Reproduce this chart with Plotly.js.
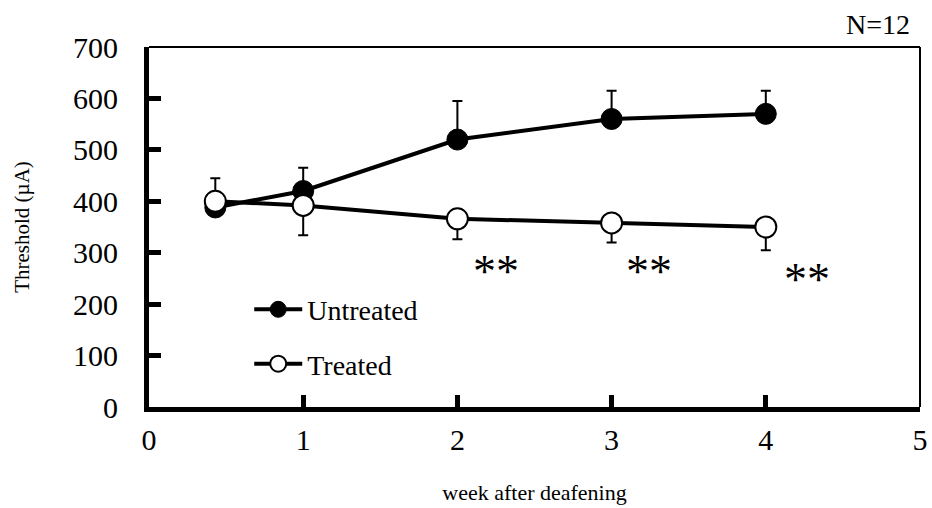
<!DOCTYPE html>
<html><head><meta charset="utf-8">
<script src="https://cdn.plot.ly/plotly-3.0.1.min.js"></script>
<style>body{margin:0;background:#fff}#c{width:932px;height:508px}</style>
</head><body><div id="c"></div>
<script>
const weeks = [0.43, 1, 2, 3, 4];
const untreated = [388, 420, 520, 560, 570];
const untreatedErrUp = [0, 45, 75, 55, 45];
const treated = [400, 392, 366, 358, 350];
const treatedErrUp = [45, 0, 0, 0, 0];
const treatedErrDown = [0, 58, 40, 38, 45];
const xTicks = [0, 1, 2, 3, 4, 5];
const yTicks = [0, 100, 200, 300, 400, 500, 600, 700];
const sigX = [2.25, 3.24, 4.27];
const sigY = [264, 264, 248];
const sigLabel = ['**', '**', '**'];

const serif = 'Liberation Serif, Times New Roman, serif';
const traces = [
  {x: weeks, y: untreated, name: 'Untreated', mode: 'lines+markers', legendgroup: 'a',
   line: {color: '#000', width: 4},
   marker: {symbol: 'circle', size: 21, color: '#000', line: {color: '#000', width: 1}},
   error_y: {type: 'data', array: untreatedErrUp, arrayminus: weeks.map(() => 0), symmetric: false,
             color: '#000', thickness: 2, width: 5}},
  {x: weeks, y: treated, name: 'Treated', mode: 'lines+markers', legendgroup: 'b',
   line: {color: '#000', width: 4},
   marker: {symbol: 'circle', size: 21, color: '#fff', line: {color: '#000', width: 2}},
   error_y: {type: 'data', array: treatedErrUp, arrayminus: treatedErrDown, symmetric: false,
             color: '#000', thickness: 2, width: 5}}
];
const annotations = sigX.map((x, i) => ({x: x, y: sigY[i], xref: 'x', yref: 'y', text: sigLabel[i],
  showarrow: false, font: {family: serif, size: 46, color: '#000'}, yanchor: 'middle'}));
annotations.push({x: 1, y: 1, xref: 'paper', yref: 'paper', xanchor: 'right', yanchor: 'bottom',
  text: 'N=12', showarrow: false, font: {family: serif, size: 28, color: '#000'}, yshift: 5, xshift: -8});
const layout = {
  width: 932, height: 508,
  margin: {l: 149, r: 12, t: 47, b: 101},
  paper_bgcolor: '#fff', plot_bgcolor: '#fff',
  font: {family: serif, color: '#000'},
  showlegend: true,
  legend: {x: 0.13, y: 0.34, xanchor: 'left', yanchor: 'top', bgcolor: 'rgba(0,0,0,0)', itemwidth: 48,
           font: {family: serif, size: 28, color: '#000'}, tracegroupgap: 15, traceorder: 'grouped'},
  xaxis: {range: [0, 5], tickvals: xTicks, ticktext: xTicks.map(String), showgrid: false, zeroline: false,
          showline: true, linecolor: '#000', linewidth: 5, ticks: 'inside', ticklen: 12, tickwidth: 5, tickcolor: '#000',
          tickfont: {family: serif, size: 30, color: '#000'}, ticklabelstandoff: 2,
          title: {text: 'week after deafening', font: {family: serif, size: 22, color: '#000'}, standoff: 31}},
  yaxis: {range: [0, 700], tickvals: yTicks, ticktext: yTicks.map(String), showgrid: false, zeroline: false,
          showline: true, linecolor: '#000', linewidth: 5, ticks: 'inside', ticklen: 12, tickwidth: 5, tickcolor: '#000',
          tickfont: {family: serif, size: 30, color: '#000'}, ticklabelstandoff: 20,
          title: {text: 'Threshold (µA)', font: {family: serif, size: 21, color: '#000'}, standoff: 39}},
  shapes: [
    {type: 'line', xref: 'paper', yref: 'paper', x0: 0, x1: 1, y0: 1, y1: 1, line: {color: '#000', width: 2}},
    {type: 'line', xref: 'paper', yref: 'paper', x0: 1, x1: 1, y0: 0, y1: 1, line: {color: '#000', width: 2}}
  ],
  annotations: annotations
};
Plotly.newPlot('c', traces, layout, {displayModeBar: false, staticPlot: true});
</script></body></html>
